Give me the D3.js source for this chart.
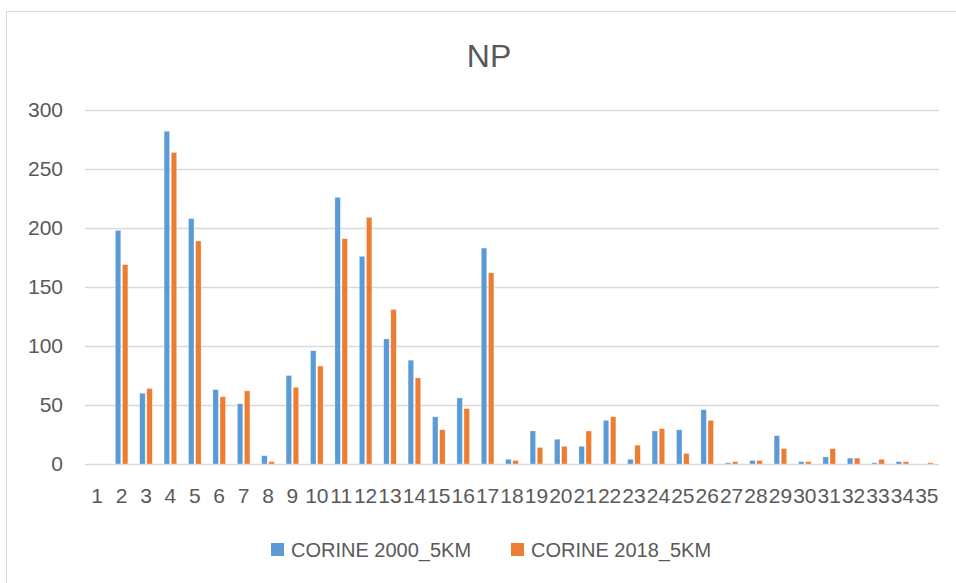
<!DOCTYPE html>
<html>
<head>
<meta charset="utf-8">
<script src="https://cdn.jsdelivr.net/npm/d3@7/dist/d3.min.js"></script>
<style>
    body { margin: 0; background: #fff; }
    svg { display: block; font-family: "Liberation Sans", Arial, sans-serif; }
</style>
</head>
<body>
<svg id="chart"></svg>
<script>
// categories 1..35
const categories = d3.range(1, 36).map(String);
const seriesNames = ["CORINE 2000_5KM", "CORINE 2018_5KM"];
const corine2000 = [0, 198, 60, 282, 208, 63, 51, 7, 75, 96, 226, 176, 106, 88, 40, 56, 183, 4, 28, 21,
    15, 37, 4, 28, 29, 46, 1, 3, 24, 2, 6, 5, 1, 2, 0];
const corine2018 = [0, 169, 64, 264, 189, 57, 62, 2, 65, 83, 191, 209, 131, 73, 29, 47, 162, 3, 14, 15,
    28, 40, 16, 30, 9, 37, 2, 3, 13, 2, 13, 5, 4, 2, 1];
const yTicks = [0, 50, 100, 150, 200, 250, 300];

const width = 956;
const height = 583;
const plotLeft = 85, plotRight = 939, plotTop = 110, plotBottom = 464;
const colors = ["#5B9BD5", "#ED7D31"];
const textColor = "#595959";

const svg = d3.select("#chart")
    .attr("width", width)
    .attr("height", height);

// chart area border (cropped on the right and bottom)
svg.append("rect")
    .attr("x", 6.5).attr("y", 11.5)
    .attr("width", 1000).attr("height", 1000)
    .attr("fill", "#fff")
    .attr("stroke", "#d9d9d9");

// title
svg.append("text")
    .attr("x", 489).attr("y", 67)
    .attr("text-anchor", "middle")
    .attr("font-size", 32)
    .attr("fill", textColor)
    .text("NP");

const x = d3.scaleBand()
    .domain(categories)
    .range([plotLeft, plotRight])
    .paddingInner(0);

const xSeries = d3.scaleBand()
    .domain([0, 1])
    .range([x.bandwidth() / 2 - 6.3, x.bandwidth() / 2 + 6.3])
    .paddingInner(0.225);

const y = d3.scaleLinear()
    .domain([0, 300])
    .range([plotBottom, plotTop]);

// y axis with gridlines
const yAxis = svg.append("g")
    .attr("transform", `translate(${plotLeft},0)`)
    .call(d3.axisLeft(y).tickValues(yTicks).tickSize(-(plotRight - plotLeft)).tickPadding(22));
yAxis.select(".domain").remove();
yAxis.selectAll("line").attr("stroke", "#d9d9d9").attr("stroke-width", 1.3);
yAxis.selectAll("text").attr("fill", textColor).attr("font-size", 21)
    .attr("font-family", "Liberation Sans, Arial, sans-serif");

// bars
const series = [corine2000, corine2018];
series.forEach((values, s) => {
    svg.append("g")
        .selectAll("rect")
        .data(values)
        .enter().append("rect")
        .attr("x", (d, i) => x(categories[i]) + xSeries(s))
        .attr("width", xSeries.bandwidth())
        .attr("y", d => y(d))
        .attr("height", d => y(0) - y(d))
        .attr("fill", colors[s])
        .attr("stroke", "#fff")
        .attr("stroke-opacity", 0.5)
        .attr("stroke-width", 0.6);
});

// x axis labels
const xAxis = svg.append("g")
    .attr("transform", `translate(0,${plotBottom})`)
    .call(d3.axisBottom(x).tickSize(0).tickPadding(24));
xAxis.select(".domain").remove();
xAxis.selectAll("text").attr("fill", textColor).attr("font-size", 21)
    .attr("font-family", "Liberation Sans, Arial, sans-serif");

// legend
const legendX = [271, 511];
const legend = svg.append("g");
seriesNames.forEach((name, s) => {
    legend.append("rect")
        .attr("x", legendX[s]).attr("y", 543)
        .attr("width", 13).attr("height", 13)
        .attr("fill", colors[s]);
    legend.append("text")
        .attr("x", legendX[s] + 20).attr("y", 557)
        .attr("font-size", 20)
        .attr("fill", textColor)
        .text(name);
});
</script>
</body>
</html>
